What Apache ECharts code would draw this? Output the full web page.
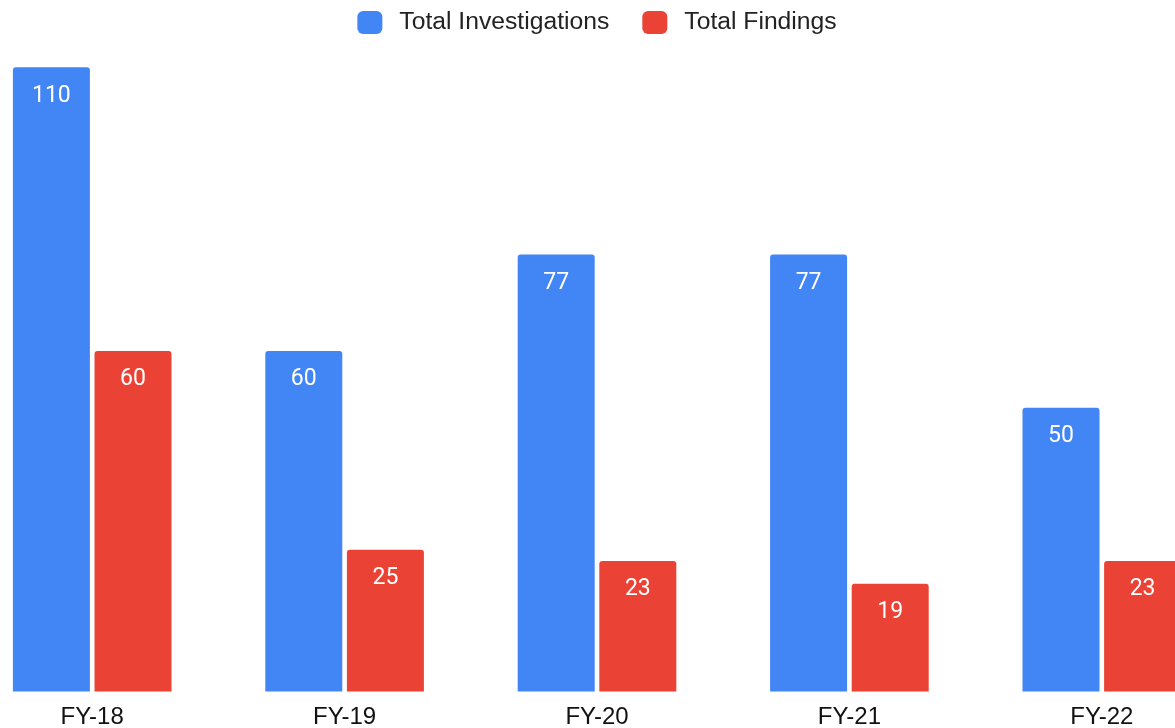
<!DOCTYPE html>
<html>
<head>
<meta charset="utf-8">
<script src="https://cdn.jsdelivr.net/npm/echarts@6/dist/echarts.min.js"></script>
<style>html,body{margin:0;padding:0;background:#fff;overflow:hidden;width:1175px;height:728px;position:relative;}#c{position:absolute;left:-34px;top:0;width:1262px;height:728px;}</style>
</head>
<body>
<div id="c"></div>
<script>
var categories = ['FY-18', 'FY-19', 'FY-20', 'FY-21', 'FY-22'];
var investigations = [110, 60, 77, 77, 50];
var findings = [60, 25, 23, 19, 23];
var seriesNames = ['Total Investigations', 'Total Findings'];

var chart = echarts.init(document.getElementById('c'));
var labelStyle = {
  show: true, position: 'insideTop', distance: 17, color: '#ffffff',
  fontFamily: 'Roboto', fontSize: 23
};
chart.setOption({
  animation: false,
  legend: {
    top: 5, left: 'center', itemWidth: 25, itemHeight: 23, itemGap: 33,
    icon: 'roundRect',
    textStyle: { fontFamily: 'Liberation Sans, Arial', fontSize: 24.7, color: '#222', padding: [0, 0, 0, 12] },
    data: seriesNames
  },
  grid: { left: 0, right: 0, top: 67.3, bottom: 36.5, containLabel: false, outerBoundsMode: 'none' },
  xAxis: {
    type: 'category', data: categories,
    axisLine: { show: false }, axisTick: { show: false },
    axisLabel: { margin: 14, fontFamily: 'Liberation Sans, Arial', fontSize: 24, color: '#111' }
  },
  yAxis: {
    type: 'value', min: 0, max: 110, show: false,
    splitLine: { show: false }
  },
  series: [
    { name: seriesNames[0], type: 'bar', data: investigations, barWidth: 77, barGap: '6%',
      itemStyle: { color: '#4285F4', borderRadius: [3, 3, 0, 0] }, label: labelStyle },
    { name: seriesNames[1], type: 'bar', data: findings, barWidth: 77, barGap: '6%',
      itemStyle: { color: '#EA4335', borderRadius: [3, 3, 0, 0] }, label: labelStyle }
  ]
});
</script>
</body>
</html>
